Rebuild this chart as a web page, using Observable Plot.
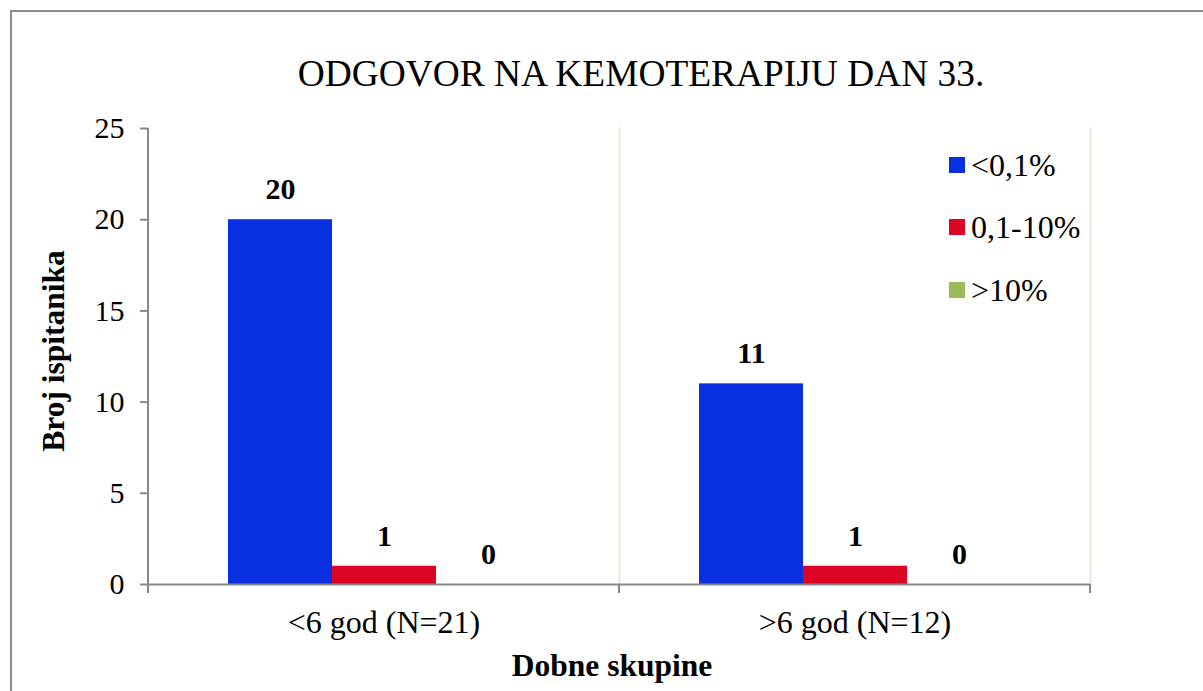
<!DOCTYPE html>
<html>
<head>
<meta charset="utf-8">
<script src="https://cdn.jsdelivr.net/npm/d3@7"></script>
<script src="https://cdn.jsdelivr.net/npm/@observablehq/plot@0.6"></script>
<style>
  html, body { margin: 0; padding: 0; background: #fff; overflow: hidden; }
  #wrap { position: relative; width: 1203px; height: 691px; overflow: hidden; font-family: "Liberation Serif", "Times New Roman", Times, "DejaVu Serif", serif; }
  #border { position: absolute; left: 10px; top: 10px; width: 1300px; height: 800px; border-left: 2px solid #8c8c8c; border-top: 2px solid #8c8c8c; pointer-events: none; }
  #chart { position: absolute; left: 0; top: 0; }
  #overlay { position: absolute; left: 0; top: 0; pointer-events: none; }
  svg text { font-family: "Liberation Serif", "Times New Roman", Times, "DejaVu Serif", serif; }
</style>
</head>
<body>
<div id="wrap">
  <div id="chart"></div>
  <svg id="overlay" width="1203" height="691"></svg>
  <div id="border"></div>
</div>
<script>
const title = "ODGOVOR NA KEMOTERAPIJU DAN 33.";
const yTitle = "Broj ispitanika";
const xTitle = "Dobne skupine";
const groups = ["<6 god (N=21)", ">6 god (N=12)"];
const series = ["<0,1%", "0,1-10%", ">10%"];
const colors = ["#0830e0", "#dc0526", "#9bbb59"];
const valuesBelow01 = [20, 11];
const values01to10 = [1, 1];
const valuesAbove10 = [0, 0];
const yTicks = [0, 5, 10, 15, 20, 25];

const seriesValues = [valuesBelow01, values01to10, valuesAbove10];
const data = [];
groups.forEach((g, gi) => {
  series.forEach((s, si) => {
    data.push({group: g, series: s, value: seriesValues[si][gi]});
  });
});

const font = "'Liberation Serif', 'Times New Roman', Times, 'DejaVu Serif', serif";
const axisGray = "#888888";

const plot = Plot.plot({
  width: 1203,
  height: 691,
  marginLeft: 148,
  marginRight: 113,
  marginTop: 128,
  marginBottom: 107,
  style: {fontFamily: font, background: "transparent", color: "black"},
  fx: {domain: groups, paddingInner: 0, paddingOuter: 0, label: null},
  x: {domain: series, paddingInner: 0, paddingOuter: 0.754, axis: null},
  y: {domain: [0, 25], label: null},
  color: {domain: series, range: colors},
  marks: [
    Plot.frame({anchor: "right", stroke: "#ebe6dc", strokeWidth: 2}),
    Plot.barY(data, {fx: "group", x: "series", y: "value", fill: "series"}),
    Plot.ruleY([0], {stroke: axisGray, strokeWidth: 2}),
    Plot.text(data, {fx: "group", x: "series", y: "value", text: d => String(d.value), dy: -30, fontSize: 30, fontWeight: "bold", fill: "black"}),
    Plot.axisY({ticks: yTicks, tickSize: 8, text: null, stroke: axisGray, strokeWidth: 2, strokeOpacity: 1}),
    Plot.axisY({ticks: yTicks, tickSize: 0, tickPadding: 24, fontSize: 30, fill: "black", label: null}),
    Plot.axisFx({anchor: "bottom", tickSize: 0, tickPadding: 26, fontSize: 32, fill: "black", label: null})
  ]
});
document.getElementById("chart").appendChild(plot);

// structural lines from the library's scales
const fx = plot.scale("fx");
const ys = plot.scale("y");
const svg = d3.select(plot);
const y0 = ys.apply(0), yTop = ys.apply(25);
const x0 = fx.apply(groups[0]);
svg.append("line").attr("x1", x0).attr("x2", x0).attr("y1", yTop).attr("y2", y0)
  .attr("stroke", axisGray).attr("stroke-width", 2);
const bounds = [x0, ...groups.map(g => fx.apply(g) + fx.bandwidth)];
bounds.forEach(b => {
  svg.append("line").attr("x1", b).attr("x2", b).attr("y1", y0).attr("y2", y0 + 9)
    .attr("stroke", axisGray).attr("stroke-width", 2);
});

// overlay texts: title, axis titles, legend
const ov = d3.select("#overlay");
ov.append("text").attr("x", 641).attr("y", 86).attr("text-anchor", "middle")
  .attr("font-size", 37.4).text(title);
ov.append("text").attr("transform", "translate(64,351) rotate(-90)").attr("text-anchor", "middle")
  .attr("font-size", 31.5).attr("font-weight", "bold").text(yTitle);
ov.append("text").attr("x", 612).attr("y", 676).attr("text-anchor", "middle")
  .attr("font-size", 31.5).attr("font-weight", "bold").text(xTitle);

const legendY = [165, 227, 290];
series.forEach((s, i) => {
  const cy = legendY[i];
  ov.append("rect").attr("x", 949).attr("y", cy - 8).attr("width", 16).attr("height", 16).attr("fill", colors[i]);
  ov.append("text").attr("x", 971).attr("y", cy + 11).attr("font-size", 32).text(s);
});
</script>
</body>
</html>
